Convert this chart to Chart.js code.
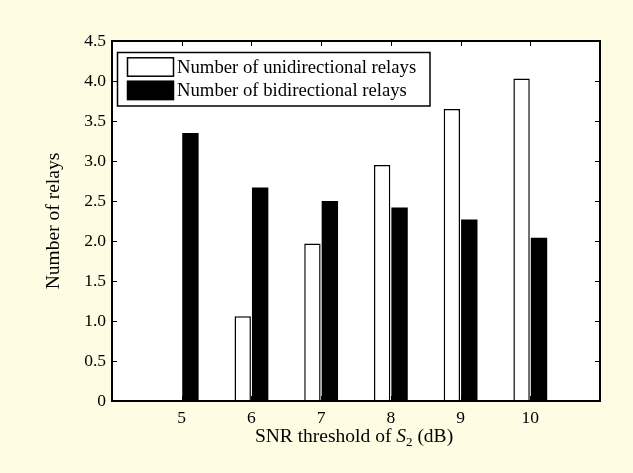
<!DOCTYPE html>
<html>
<head>
<meta charset="utf-8">
<script src="https://cdn.jsdelivr.net/npm/chart.js@4.4.1/dist/chart.umd.min.js"></script>
<style>
  html, body { margin: 0; padding: 0; background: #fefde4; }
  canvas { display: block; }
</style>
</head>
<body>
<canvas id="chart" width="633" height="473"></canvas>
<script>
// data
const thresholds = [5, 6, 7, 8, 9, 10];
const unidirectional = [0, 1.06, 1.97, 2.95, 3.65, 4.03];
const bidirectional = [3.35, 2.67, 2.50, 2.42, 2.27, 2.04];
const seriesNames = ["Number of unidirectional relays", "Number of bidirectional relays"];
const xTickLabels = ["5", "6", "7", "8", "9", "10"];
const yTickLabels = ["0", "0.5", "1.0", "1.5", "2.0", "2.5", "3.0", "3.5", "4.0", "4.5"];

const serif = "'Liberation Serif', 'Times New Roman', serif";

// white plot area, inward ticks, black frame, boxed legend, x title
const matlabAxes = {
  id: "matlabAxes",
  beforeDatasetsDraw(chart) {
    const { ctx, chartArea: a, scales: { x, y } } = chart;
    ctx.save();
    ctx.fillStyle = "#ffffff";
    ctx.fillRect(a.left, a.top, a.right - a.left, a.bottom - a.top);
    ctx.strokeStyle = "#000";
    ctx.lineWidth = 1;
    ctx.beginPath();
    x.ticks.forEach(t => {
      const px = Math.round(x.getPixelForValue(t.value)) + 0.5;
      ctx.moveTo(px, a.top); ctx.lineTo(px, a.top + 5);
      ctx.moveTo(px, a.bottom); ctx.lineTo(px, a.bottom - 5);
    });
    y.ticks.forEach(t => {
      const py = Math.round(y.getPixelForValue(t.value)) + 0.5;
      ctx.moveTo(a.left, py); ctx.lineTo(a.left + 5, py);
      ctx.moveTo(a.right, py); ctx.lineTo(a.right - 5, py);
    });
    ctx.stroke();
    ctx.restore();
  },
  afterDatasetsDraw(chart) {
    const { ctx, chartArea: a } = chart;
    ctx.save();
    ctx.strokeStyle = "#000";
    ctx.lineWidth = 2;
    ctx.strokeRect(a.left, a.top, a.right - a.left, a.bottom - a.top);

    // legend
    const L = a.left + 5.5, T = a.top + 11.5, W = 312.5, H = 53.5;
    ctx.fillStyle = "#fff";
    ctx.fillRect(L, T, W, H);
    ctx.lineWidth = 1.5;
    ctx.strokeRect(L, T, W, H);
    ctx.font = "18.7px " + serif;
    ctx.textBaseline = "middle";
    ctx.textAlign = "left";
    chart.data.datasets.forEach((ds, i) => {
      const cy = T + 14.5 + i * 23.4;
      ctx.fillStyle = ds.backgroundColor;
      ctx.fillRect(L + 10, cy - 9.2, 46, 18.4);
      ctx.lineWidth = 1.5;
      ctx.strokeStyle = "#000";
      ctx.strokeRect(L + 10, cy - 9.2, 46, 18.4);
      ctx.fillStyle = "#000";
      ctx.fillText(ds.label, L + 59.5, cy + 1);
    });

    // x axis title with italic S and subscript 2
    const parts = [
      { t: "SNR threshold of ", f: "19.5px " + serif, dy: 0 },
      { t: "S", f: "italic 19.5px " + serif, dy: 0 },
      { t: "2", f: "13px " + serif, dy: 4 },
      { t: " (dB)", f: "19.5px " + serif, dy: 0 }
    ];
    let total = 0;
    parts.forEach(p => { ctx.font = p.f; p.w = ctx.measureText(p.t).width; total += p.w; });
    let cx = (a.left + a.right) / 2 - 2 - total / 2;
    ctx.textBaseline = "alphabetic";
    ctx.fillStyle = "#000";
    parts.forEach(p => { ctx.font = p.f; ctx.fillText(p.t, cx, 442 + p.dy); cx += p.w; });
    ctx.restore();
  }
};

const ctx = document.getElementById("chart").getContext("2d");

new Chart(ctx, {
  type: "bar",
  data: {
    datasets: [
      {
        label: seriesNames[0],
        data: thresholds.map((t, i) => ({ x: t, y: unidirectional[i] })),
        backgroundColor: "#ffffff",
        borderColor: "#000000",
        borderWidth: 1.5
      },
      {
        label: seriesNames[1],
        data: thresholds.map((t, i) => ({ x: t, y: bidirectional[i] })),
        backgroundColor: "#000000",
        borderColor: "#000000",
        borderWidth: 0
      }
    ]
  },
  options: {
    responsive: false,
    animation: false,
    categoryPercentage: 0.5,
    barPercentage: 0.94,
    layout: { padding: { left: 38.6, right: 33, top: 41, bottom: 0 } },
    plugins: {
      legend: { display: false },
      tooltip: { enabled: false }
    },
    scales: {
      x: {
        type: "linear",
        offset: false,
        min: 4,
        max: 11,
        grid: { display: false, drawTicks: false },
        border: { display: false },
        ticks: {
          stepSize: 1,
          padding: 7,
          color: "#000",
          font: { family: serif, size: 17.5 },
          callback: v => {
            const i = thresholds.indexOf(v);
            return i >= 0 ? xTickLabels[i] : "";
          }
        },
        afterFit: s => { s.height = 72; }
      },
      y: {
        min: 0,
        max: 4.5,
        grid: { display: false, drawTicks: false },
        border: { display: false },
        ticks: {
          stepSize: 0.5,
          padding: 6,
          color: "#000",
          font: { family: serif, size: 17.5 },
          callback: v => yTickLabels[Math.round(v / 0.5)]
        },
        title: {
          display: true,
          text: "Number of relays",
          color: "#000",
          font: { family: serif, size: 19.5 }
        },
        afterFit: s => { s.width = 112 - 38.6; }
      }
    }
  },
  plugins: [matlabAxes]
});
</script>
</body>
</html>
